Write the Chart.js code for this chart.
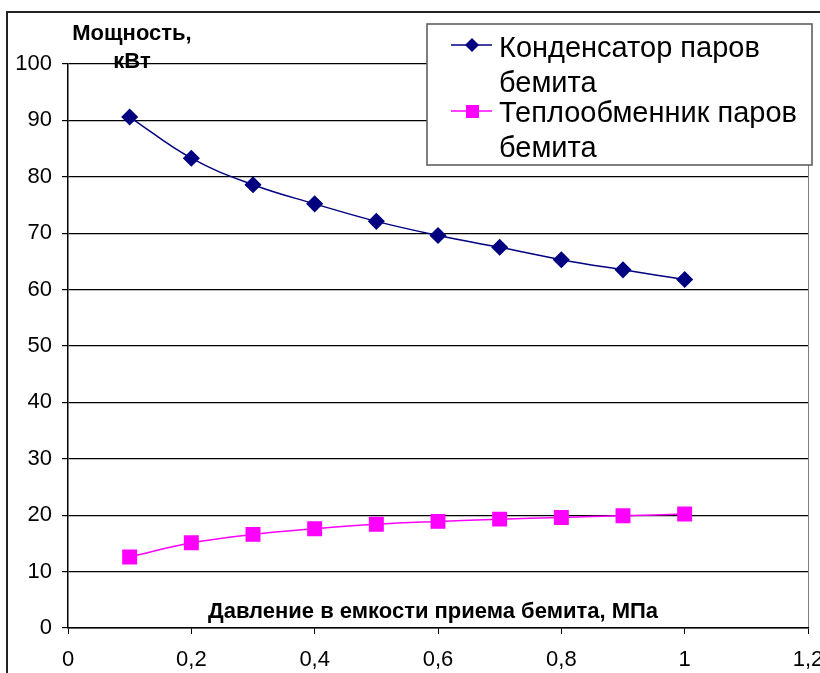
<!DOCTYPE html>
<html>
<head>
<meta charset="utf-8">
<script src="https://cdn.jsdelivr.net/npm/chart.js@4.4.1/dist/chart.umd.min.js"></script>
<style>
  html, body { margin: 0; padding: 0; background: #fff; }
  #wrap { position: relative; width: 820px; height: 673px; }
</style>
</head>
<body>
<div id="wrap"><canvas id="c"></canvas></div>
<script>
const pressure   = [0.1, 0.2, 0.3, 0.4, 0.5, 0.6, 0.7, 0.8, 0.9, 1.0];
const condenser  = [90.6, 83.3, 78.6, 75.2, 72.1, 69.6, 67.5, 65.3, 63.5, 61.8];
const exchanger  = [12.6, 15.1, 16.6, 17.6, 18.4, 18.9, 19.3, 19.6, 19.9, 20.2];
const seriesNames = [['Конденсатор паров', 'бемита'], ['Теплообменник паров', 'бемита']];
const yTitle = ['Мощность,', 'кВт'];
const xTitle = 'Давление в емкости приема бемита, МПа';

const FONT = '"Liberation Sans", Arial, sans-serif';
const BLUE = '#000080', PINK = '#ff00ff';

const pts = ys => pressure.map((x, i) => ({ x, y: ys[i] }));

const decor = {
  id: 'decor',
  beforeDraw(chart) {
    const c = chart.ctx;
    c.save();
    c.strokeStyle = '#222';
    c.lineWidth = 2;
    c.strokeRect(7, 12, 900, 900);
    c.restore();
  },
  afterDraw(chart) {
    const c = chart.ctx;
    c.save();
    // axis titles
    c.fillStyle = '#000';
    c.textAlign = 'center';
    c.textBaseline = 'middle';
    c.font = 'bold 22px ' + FONT;
    c.fillText(yTitle[0], 132, 34);
    c.fillText(yTitle[1], 132, 62);
    c.fillText(xTitle, 433, 612);

    // legend box
    c.fillStyle = '#fff';
    c.fillRect(427, 24, 385, 141);
    c.strokeStyle = '#555';
    c.lineWidth = 1.5;
    c.strokeRect(427, 24, 385, 141);

    const rows = [
      { col: BLUE, shape: 'diamond', y: 45, base: [57, 92] },
      { col: PINK, shape: 'square', y: 111, base: [122, 157] }
    ];
    c.font = '29px ' + FONT;
    c.textAlign = 'left';
    c.textBaseline = 'alphabetic';
    rows.forEach((r, i) => {
      c.strokeStyle = r.col;
      c.lineWidth = 1.5;
      c.beginPath(); c.moveTo(451, r.y); c.lineTo(492, r.y); c.stroke();
      c.fillStyle = r.col;
      c.beginPath();
      if (r.shape === 'diamond') {
        c.moveTo(472, r.y - 7); c.lineTo(479, r.y); c.lineTo(472, r.y + 7); c.lineTo(465, r.y);
        c.closePath();
      } else {
        c.rect(466, r.y - 6, 13, 13);
      }
      c.fill();
      c.fillStyle = '#000';
      c.fillText(seriesNames[i][0], 499, r.base[0]);
      c.fillText(seriesNames[i][1], 499, r.base[1]);
    });
    c.restore();
  }
};

new Chart(document.getElementById('c'), {
  type: 'scatter',
  data: {
    datasets: [
      { label: seriesNames[0].join(' '), data: pts(condenser), showLine: true,
        borderColor: BLUE, backgroundColor: BLUE, borderWidth: 1.5, tension: 0.4,
        pointStyle: 'rectRot', pointRadius: 7.5, pointHoverRadius: 7.5 },
      { label: seriesNames[1].join(' '), data: pts(exchanger), showLine: true,
        borderColor: PINK, backgroundColor: PINK, borderWidth: 1.5, tension: 0.4,
        pointStyle: 'rect', pointRadius: 9.5, pointHoverRadius: 9.5 }
    ]
  },
  options: {
    responsive: true,
    maintainAspectRatio: false,
    animation: false,
    layout: { padding: { left: 0, top: 64, right: 12, bottom: 0 } },
    plugins: { legend: { display: false }, tooltip: { enabled: false } },
    scales: {
      x: {
        type: 'linear', min: 0, max: 1.2,
        afterFit(s) { s.height = 45; s.paddingLeft = 0; s.paddingRight = 0; },
        ticks: { stepSize: 0.2, color: '#000', padding: 13,
          font: { family: FONT, size: 22 },
          callback: v => String(Math.round(v * 10) / 10).replace('.', ',') },
        grid: { drawOnChartArea: true, drawTicks: true, tickLength: 6,
          color: ctx => (ctx.tick && ctx.tick.value === 1.2) ? '#808080' : 'rgba(0,0,0,0)',
          tickColor: '#000', lineWidth: 1 },
        border: { color: '#000', width: 1.5 }
      },
      y: {
        min: 0, max: 100,
        afterFit(s) { s.width = 68; },
        ticks: { stepSize: 10, color: '#000', padding: 10,
          font: { family: FONT, size: 22 } },
        grid: { color: '#000', tickLength: 6, lineWidth: 1.2 },
        border: { color: '#000', width: 1.5 }
      }
    }
  },
  plugins: [decor]
});
</script>
</body>
</html>
